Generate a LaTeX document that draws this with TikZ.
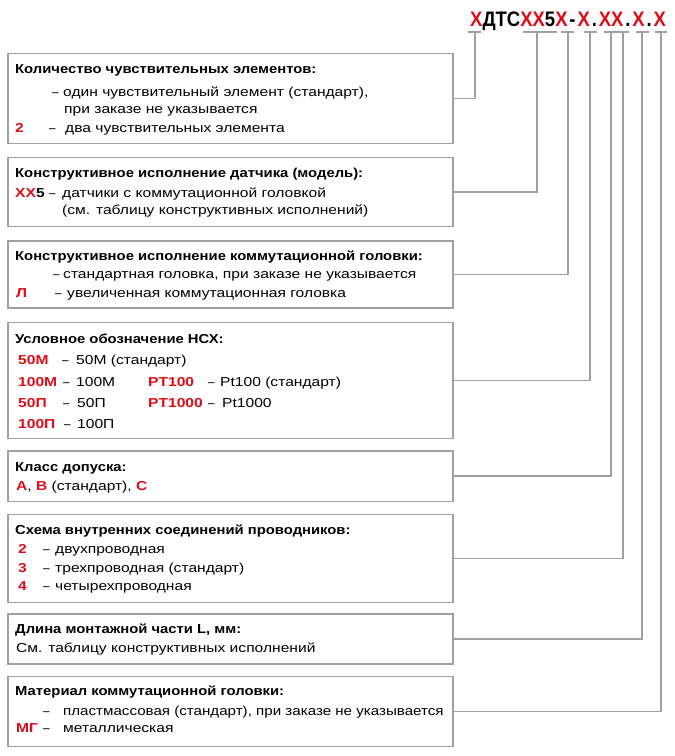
\documentclass[tikz,border=0pt]{standalone}
\usepackage{fontspec}
\usepackage{graphicx}
\setmainfont{Liberation Sans}[FakeStretch=1.2]
\newfontfamily\headfont{Liberation Sans}[FakeStretch=1.14]
\newfontfamily\codefont{Liberation Sans}[FakeStretch=0.88]
\definecolor{codered}{RGB}{222,12,22}
\definecolor{linegray}{RGB}{160,160,160}
\newcommand{\rb}[1]{\textcolor{codered}{\textbf{#1}}}
\newcommand{\pk}[1]{\kern1.9pt#1\kern1.9pt}
\newcommand{\ds}{\scalebox{0.75}[1]{–}}
\tikzset{
  panel/.style={draw=linegray, line width=1.6pt, minimum width=445pt, anchor=north west, inner sep=0pt},
  conn/.style={draw=linegray, line width=1.6pt},
  txt/.style={anchor=base west, inner sep=0pt, font=\fontsize{13}{15}\selectfont},
  head/.style={txt, font=\fontsize{13}{15}\selectfont\headfont\bfseries},
}
\begin{document}
\begin{tikzpicture}[x=1pt,y=-1pt]
    \useasboundingbox (0,0) rectangle (675,756);
    % code of the sensor
    \node[anchor=base west, inner sep=0pt] (code) at (470,26.7) {\fontsize{21}{22}\selectfont\codefont\bfseries
        \rb{Х}ДТС\rb{ХХ}5\rb{Х}\pk{-}\rb{Х}\pk{.}\rb{ХХ}\pk{.}\rb{Х}\pk{.}\rb{Х}};
    % panels
    \node[panel, minimum height=90pt] (b1) at (7,52.5) {};
    \node[panel, minimum height=69pt] (b2) at (7,156.5) {};
    \node[panel, minimum height=67pt] (b3) at (7,240) {};
    \node[panel, minimum height=116pt] (b4) at (7,321.5) {};
    \node[panel, minimum height=50.5pt] (b5) at (7,450) {};
    \node[panel, minimum height=88pt] (b6) at (7,513.5) {};
    \node[panel, minimum height=50pt] (b7) at (7,613.3) {};
    \node[panel, minimum height=70pt] (b8) at (7,675.5) {};
    % bars under the code and leaders
    \foreach \a/\b/\m [count=\i] in {468/481/475, 523/557/537, 561/574/568, 584/597/590, 604/617/611, 617/629/623, 636/649/642, 655/667/661}
    {
        \draw[conn] (\a,32) -- (\b,32);
        \coordinate (t\i) at (\m,32);
    }
    \foreach \i in {1,...,8}
    \draw[conn] (t\i) |- (b\i.east);
    % panel 1
    \node[head] (h1) at (15,73) {Количество чувствительных элементов:};
    \node[txt] (d11) at (52,96) {\ds};
    \node[txt] (s11) at (63,96) {один чувствительный элемент (стандарт),};
    \node[txt] (s12) at (64,113) {при заказе не указывается};
    \node[txt] (k13) at (15,132) {\rb{2}};
    \node[txt] (d13) at (49,132) {\ds};
    \node[txt] (s13) at (65,132) {два чувствительных элемента};
    % panel 2
    \node[head] (h2) at (15,177) {Конструктивное исполнение датчика (модель):};
    \node[txt] (k21) at (15,197) {\rb{ХХ}\textbf{5}};
    \node[txt] (d21) at (49,197) {\ds};
    \node[txt] (s21) at (62,197) {датчики с коммутационной головкой};
    \node[txt] (s22) at (62,214) {(см. таблицу конструктивных исполнений)};
    % panel 3
    \node[head] (h3) at (15,260) {Конструктивное исполнение коммутационной головки:};
    \node[txt] (d31) at (53,278) {\ds};
    \node[txt] (s31) at (63,278) {стандартная головка, при заказе не указывается};
    \node[txt] (k32) at (16,297) {\rb{Л}};
    \node[txt] (d32) at (55,297) {\ds};
    \node[txt] (s32) at (67,297) {увеличенная коммутационная головка};
    % panel 4
    \node[head] (h4) at (15,343) {Условное обозначение НСХ:};
    \node[txt] (k41) at (18,364.5) {\rb{50М}};
    \node[txt] (d41) at (62,364.5) {\ds};
    \node[txt] (s41) at (76,364.5) {50М (стандарт)};
    \node[txt] (k42) at (18,386.5) {\rb{100М}};
    \node[txt] (d42) at (63,386.5) {\ds};
    \node[txt] (s42) at (76,386.5) {100М};
    \node[txt] (k43) at (148,386.5) {\rb{PT100}};
    \node[txt] (d43) at (208,386.5) {\ds};
    \node[txt] (s43) at (220,386.5) {Pt100 (стандарт)};
    \node[txt] (k44) at (18,407.5) {\rb{50П}};
    \node[txt] (d44) at (63,407.5) {\ds};
    \node[txt] (s44) at (77,407.5) {50П};
    \node[txt] (k45) at (148,407.5) {\rb{PT1000}};
    \node[txt] (d45) at (208,407.5) {\ds};
    \node[txt] (s45) at (222,407.5) {Pt1000};
    \node[txt] (k46) at (18,428.5) {\rb{100П}};
    \node[txt] (d46) at (64,428.5) {\ds};
    \node[txt] (s46) at (77,428.5) {100П};
    % panel 5
    \node[head] (h5) at (15,471) {Класс допуска:};
    \node[txt] (s51) at (16,490) {\rb{А}, \rb{В} (стандарт), \rb{С}};
    % panel 6
    \node[head] (h6) at (15,534.5) {Схема внутренних соединений проводников:};
    \node[txt] (k61) at (18,553.5) {\rb{2}};
    \node[txt] (d61) at (43,553.5) {\ds};
    \node[txt] (s61) at (55,553.5) {двухпроводная};
    \node[txt] (k62) at (18,572) {\rb{3}};
    \node[txt] (d62) at (43,572) {\ds};
    \node[txt] (s62) at (55,572) {трехпроводная (стандарт)};
    \node[txt] (k63) at (18,590) {\rb{4}};
    \node[txt] (d63) at (43,590) {\ds};
    \node[txt] (s63) at (55,590) {четырехпроводная};
    % panel 7
    \node[head] (h7) at (15,633.5) {Длина монтажной части L, мм:};
    \node[txt] (s71) at (16,652) {См. таблицу конструктивных исполнений};
    % panel 8
    \node[head] (h8) at (15,695.5) {Материал коммутационной головки:};
    \node[txt] (d81) at (43,715) {\ds};
    \node[txt] (s81) at (63,715) {\scalebox{0.97}[1]{пластмассовая (стандарт), при заказе не указывается}};
    \node[txt] (k82) at (16,732) {\rb{МГ}};
    \node[txt] (d82) at (43,732) {\ds};
    \node[txt] (s82) at (63,732) {металлическая};
\end{tikzpicture}
\end{document}
